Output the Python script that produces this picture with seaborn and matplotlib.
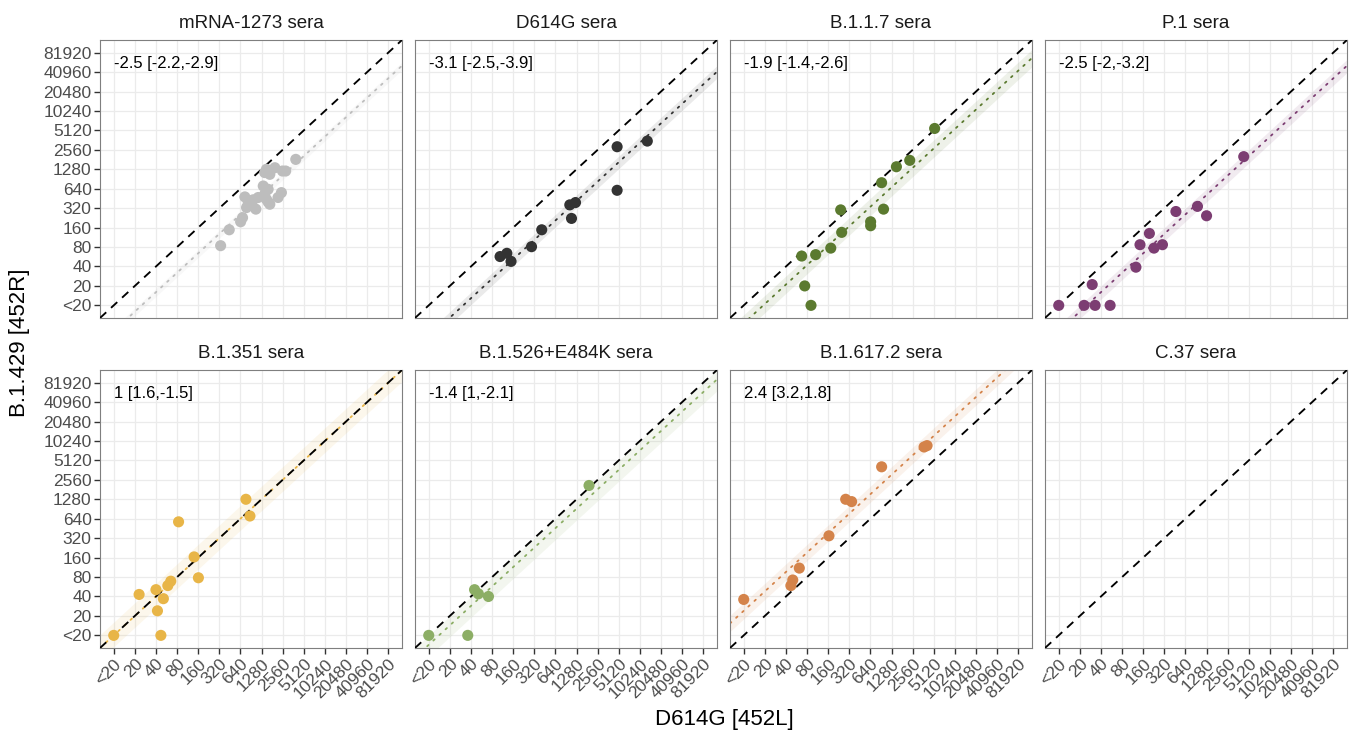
import numpy as np
import pandas as pd
import matplotlib
matplotlib.use("Agg")
import matplotlib.pyplot as plt
from matplotlib.ticker import NullLocator
import seaborn as sns

# ---- data: neutralization titers (10 = below the <20 detection limit) ----
panels = ["mRNA-1273 sera", "D614G sera", "B.1.1.7 sera", "P.1 sera",
          "B.1.351 sera", "B.1.526+E484K sera", "B.1.617.2 sera", "C.37 sera"]
colors = ["#BDBDBD", "#333333", "#5B7A2F", "#7C3D72",
          "#E8B547", "#8CAE65", "#D4834A", "#999999"]

# fold change of B.1.429 vs D614G with 95% interval
fold = [-2.5, -3.1, -1.9, -2.5, 1, -1.4, 2.4, None]
ci_hi = [-2.2, -2.5, -1.4, -2, 1.6, 1, 3.2, None]
ci_lo = [-2.9, -3.9, -2.6, -3.2, -1.5, -2.1, 1.8, None]

mrna_x = [334, 443, 644, 686, 740, 782, 827, 970, 1061, 1146, 1353, 1420, 1501,
          1420, 1501, 1587, 1587, 1678, 1981, 2198, 2456, 2542, 2821, 3934, 1678]
mrna_y = [84, 148, 197, 228, 478, 327, 391, 431, 309, 468, 705, 527, 440,
          1138, 1280, 627, 399, 1069, 1353, 468, 557, 1203, 1203, 1823, 368]

d614g_x = [104, 130, 149, 292, 408, 1025, 1236, 1084, 4844, 4844, 13050]
d614g_y = [57, 64, 48, 81, 148, 360, 391, 222, 2860, 605, 3498]

b117_x = [67, 74, 91, 106, 174, 249, 241, 644, 644, 984, 924, 1501, 2323, 5263]
b117_y = [58, 20, 10, 61, 77, 135, 301, 197, 171, 309, 793, 1401, 1761, 5487]

p1_x = [10, 23, 33, 54, 30, 126, 144, 196, 228, 301, 468, 950, 1280, 4335]
p1_y = [10, 10, 10, 10, 21, 39, 87, 130, 77, 87, 284, 341, 244, 2009]

b1351_x = [10, 23, 40, 42, 47, 51, 59, 65, 84, 140, 161, 766, 874]
b1351_y = [10, 43, 51, 24, 10, 37, 59, 69, 573, 164, 78, 1280, 705]

b1526_x = [10, 36, 45, 51, 71, 1927]
b1526_y = [10, 10, 51, 44, 40, 2094]

b16172_x = [10, 47, 50, 62, 164, 284, 345, 924, 3722, 4103]
b16172_y = [36, 59, 72, 110, 348, 1280, 1178, 4073, 8261, 8671]

c37_x = []
c37_y = []

xs_all = [mrna_x, d614g_x, b117_x, p1_x, b1351_x, b1526_x, b16172_x, c37_x]
ys_all = [mrna_y, d614g_y, b117_y, p1_y, b1351_y, b1526_y, b16172_y, c37_y]

tick_vals = [10 * 2 ** i for i in range(14)]
tick_labels = ["<20"] + [str(v) for v in tick_vals[1:]]

df = pd.concat(
    [pd.DataFrame({"sera": name, "d614g": x, "b1429": y})
     for name, x, y in zip(panels, xs_all, ys_all)],
    ignore_index=True)


def log2_fold(f):
    """Signed fold change -> log2 ratio."""
    return np.log2(f) if f > 0 else -np.log2(-f)


# ---- figure ----
sns.set_theme(style="whitegrid")
plt.rcParams["font.family"] = ["Liberation Sans", "DejaVu Sans"]

W, H = 1359, 740
fig = plt.figure(figsize=(W / 100, H / 100), dpi=100)
lefts = [100, 415, 730, 1045]
tops = [40, 370]
pw, ph = 302, 278

expand = 2 ** 0.65
lim = (tick_vals[0] / expand, tick_vals[-1] * expand)
line_x = np.geomspace(lim[0], lim[1], 200)

for i, name in enumerate(panels):
    r, c = divmod(i, 4)
    ax = fig.add_axes([lefts[c] / W, 1 - (tops[r] + ph) / H, pw / W, ph / H])
    ax.set_facecolor("white")
    ax.set_xscale("log", base=2)
    ax.set_yscale("log", base=2)
    ax.set_xlim(lim)
    ax.set_ylim(lim)
    ax.set_xticks(tick_vals)
    ax.set_yticks(tick_vals)
    ax.xaxis.set_minor_locator(NullLocator())
    ax.yaxis.set_minor_locator(NullLocator())
    ax.grid(True, color="#EBEBEB", lw=0.9)
    ax.set_axisbelow(True)
    for sp in ax.spines.values():
        sp.set_visible(True)
        sp.set_color("#7F7F7F")
        sp.set_linewidth(0.8)

    col = colors[i]
    sub = df[df["sera"] == name]

    if fold[i] is not None:
        lo, hi, mid = log2_fold(ci_lo[i]), log2_fold(ci_hi[i]), log2_fold(fold[i])
        ax.fill_between(line_x, line_x * 2 ** lo, line_x * 2 ** hi,
                        color=col, alpha=0.1, lw=0, zorder=1)
        ax.plot(line_x, line_x * 2 ** mid, color=col, lw=1.3,
                ls=(0, (1, 3.6)), dash_capstyle="round", zorder=2)
        label = f"{fold[i]:g} [{ci_hi[i]:g},{ci_lo[i]:g}]"
        ax.text(tick_vals[0], 10 * 2 ** 12.45, label, ha="left", va="center",
                fontsize=12, color="black", zorder=6)

    ax.plot(lim, lim, color="black", lw=1.35, ls=(0, (4.5, 3.5)), zorder=3)

    if len(sub):
        sns.scatterplot(data=sub, x="d614g", y="b1429", ax=ax, color=col,
                        s=64, edgecolor="none", linewidth=0, legend=False,
                        zorder=5, clip_on=False)

    ax.set_xlabel("")
    ax.set_ylabel("")
    ax.set_title(name, fontsize=13.5, pad=8.5, color="#1A1A1A")

    if r == 1:
        ax.tick_params(axis="x", length=4, width=1, color="#333333",
                       labelsize=12.5, labelcolor="#4D4D4D", pad=2, bottom=True)
        ax.set_xticklabels(tick_labels, rotation=45, ha="right", va="top",
                           rotation_mode="anchor")
    else:
        ax.tick_params(axis="x", length=0, labelbottom=False)
    if c == 0:
        ax.tick_params(axis="y", length=4, width=1, color="#333333",
                       labelsize=12.5, labelcolor="#4D4D4D", pad=2, left=True)
        ax.set_yticklabels(tick_labels)
    else:
        ax.tick_params(axis="y", length=0, labelleft=False)

fig.text(724 / W, 1 - 720 / H, "D614G [452L]", ha="center", va="center",
         fontsize=16, color="black")
fig.text(20 / W, 1 - 343 / H, "B.1.429 [452R]", ha="center", va="center",
         rotation=90, fontsize=16, color="black")

fig.savefig("out.png", dpi=100)
